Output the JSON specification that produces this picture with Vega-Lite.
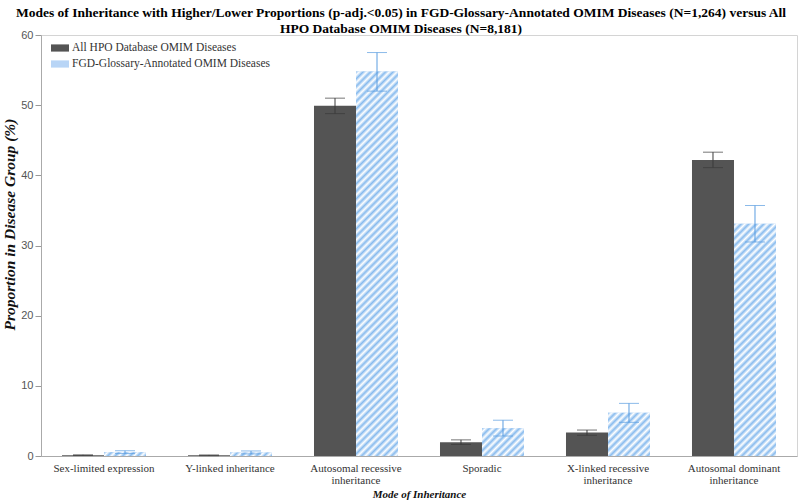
{
  "$schema": "https://vega.github.io/schema/vega-lite/v6.json",
  "width": 756,
  "height": 421,
  "autosize": "none",
  "padding": {"left": 41, "top": 35, "right": 3, "bottom": 45},
  "background": "white",
  "title": {
    "text": [
      "Modes of Inheritance with Higher/Lower Proportions (p-adj.<0.05) in FGD-Glossary-Annotated OMIM Diseases (N=1,264) versus All",
      "HPO Database OMIM Diseases (N=8,181)"
    ],
    "anchor": "middle",
    "frame": "group",
    "dx": -18,
    "offset": -6,
    "font": "Liberation Serif",
    "fontSize": 13.5,
    "fontWeight": "bold",
    "color": "#000",
    "lineHeight": 16,
    "limit": 0
  },
  "data": {
    "values": [
      {"mode": "Sex-limited expression", "series": "All HPO Database OMIM Diseases", "value": 0.12, "lo": 0.07, "hi": 0.17},
      {"mode": "Sex-limited expression", "series": "FGD-Glossary-Annotated OMIM Diseases", "value": 0.55, "lo": 0.35, "hi": 0.75},
      {"mode": "Y-linked inheritance", "series": "All HPO Database OMIM Diseases", "value": 0.1, "lo": 0.05, "hi": 0.15},
      {"mode": "Y-linked inheritance", "series": "FGD-Glossary-Annotated OMIM Diseases", "value": 0.5, "lo": 0.3, "hi": 0.72},
      {"mode": "Autosomal recessive inheritance", "series": "All HPO Database OMIM Diseases", "value": 49.9, "lo": 48.8, "hi": 51.0},
      {"mode": "Autosomal recessive inheritance", "series": "FGD-Glossary-Annotated OMIM Diseases", "value": 54.8, "lo": 52.0, "hi": 57.5},
      {"mode": "Sporadic", "series": "All HPO Database OMIM Diseases", "value": 1.95, "lo": 1.65, "hi": 2.3},
      {"mode": "Sporadic", "series": "FGD-Glossary-Annotated OMIM Diseases", "value": 3.95, "lo": 2.85, "hi": 5.1},
      {"mode": "X-linked recessive inheritance", "series": "All HPO Database OMIM Diseases", "value": 3.35, "lo": 2.95, "hi": 3.7},
      {"mode": "X-linked recessive inheritance", "series": "FGD-Glossary-Annotated OMIM Diseases", "value": 6.15, "lo": 4.8, "hi": 7.5},
      {"mode": "Autosomal dominant inheritance", "series": "All HPO Database OMIM Diseases", "value": 42.2, "lo": 41.1, "hi": 43.3},
      {"mode": "Autosomal dominant inheritance", "series": "FGD-Glossary-Annotated OMIM Diseases", "value": 33.1, "lo": 30.5, "hi": 35.7}
    ]
  },
  "encoding": {
    "x": {
      "field": "mode",
      "type": "nominal",
      "sort": null,
      "title": "Mode of Inheritance",
      "scale": {"paddingInner": 0.3333, "paddingOuter": 0.1667},
      "axis": {
        "labelAngle": 0,
        "ticks": false,
        "labelFont": "Liberation Serif",
        "labelFontSize": 11,
        "labelColor": "#333",
        "labelLineHeight": 12,
        "labelPadding": 6,
        "labelLimit": 0,
        "titlePadding": 3,
        "labelExpr": "indexof(datum.label, 'recessive inheritance') >= 0 || indexof(datum.label, 'dominant inheritance') >= 0 ? [replace(datum.label, ' inheritance', ''), 'inheritance'] : datum.label"
      }
    },
    "xOffset": {
      "field": "series",
      "type": "nominal",
      "sort": null,
      "scale": {"domain": ["All HPO Database OMIM Diseases", "FGD-Glossary-Annotated OMIM Diseases"]}
    }
  },
  "layer": [
    {
      "mark": {"type": "bar"},
      "encoding": {
        "y": {
          "field": "value",
          "type": "quantitative",
          "title": "Proportion in Disease Group (%)",
          "scale": {"domain": [0, 60], "nice": false},
          "axis": {
            "values": [0, 10, 20, 30, 40, 50, 60],
            "grid": false,
            "labelFont": "Liberation Sans",
            "labelFontSize": 11,
            "labelColor": "#555",
            "labelPadding": 2,
            "tickSize": 6,
            "tickColor": "#999",
            "titleFontSize": 15.5,
            "titleX": -32,
            "titleY": 189,
            "titleBaseline": "middle"
          }
        },
        "fill": {
          "field": "series",
          "type": "nominal",
          "scale": {
            "domain": ["All HPO Database OMIM Diseases", "FGD-Glossary-Annotated OMIM Diseases"],
            "range": ["#545454", "#b8d5f6"]
          },
          "legend": {
            "orient": "none",
            "legendX": 10,
            "legendY": 4,
            "title": null,
            "padding": 0,
            "symbolType": "M-1,-0.4H1V0.4H-1Z",
            "symbolSize": 324,
            "symbolStrokeWidth": 0,
            "labelFont": "Liberation Serif",
            "labelFontSize": 11.5,
            "labelColor": "#333",
            "labelOffset": 3,
            "labelLimit": 0,
            "rowPadding": 1,
            "encode": {
              "symbols": {
                "update": {
                  "fill": {"signal": "datum.value == 'FGD-Glossary-Annotated OMIM Diseases' ? {gradient:'linear',x1:0,y1:0,x2:1.207,y2:0.483,stops:[{offset:0,color:'#8be'},{offset:0.149,color:'#fff'},{offset:0.298,color:'#8be'},{offset:0.447,color:'#fff'},{offset:0.596,color:'#8be'},{offset:0.745,color:'#fff'},{offset:0.894,color:'#8be'},{offset:1,color:'#fff'}]} : '#545454'"}
                }
              }
            }
          }
        }
      }
    },
    {
      "transform": [{"filter": "datum.series == 'FGD-Glossary-Annotated OMIM Diseases'"}],
      "mark": {
        "type": "bar",
        "fill": {"expr": "{gradient:'linear',x1:0,y1:0,x2:42*750/(1764+pow(datum.value*7.01667,2)),y2:datum.value*7.01667*750/(1764+pow(datum.value*7.01667,2)),stops:[{offset:0,color:'#8be'},{offset:0.005,color:'#fff'},{offset:0.01,color:'#8be'},{offset:0.015,color:'#fff'},{offset:0.02,color:'#8be'},{offset:0.025,color:'#fff'},{offset:0.03,color:'#8be'},{offset:0.035,color:'#fff'},{offset:0.04,color:'#8be'},{offset:0.045,color:'#fff'},{offset:0.05,color:'#8be'},{offset:0.055,color:'#fff'},{offset:0.06,color:'#8be'},{offset:0.065,color:'#fff'},{offset:0.07,color:'#8be'},{offset:0.075,color:'#fff'},{offset:0.08,color:'#8be'},{offset:0.085,color:'#fff'},{offset:0.09,color:'#8be'},{offset:0.095,color:'#fff'},{offset:0.1,color:'#8be'},{offset:0.105,color:'#fff'},{offset:0.11,color:'#8be'},{offset:0.115,color:'#fff'},{offset:0.12,color:'#8be'},{offset:0.125,color:'#fff'},{offset:0.13,color:'#8be'},{offset:0.135,color:'#fff'},{offset:0.14,color:'#8be'},{offset:0.145,color:'#fff'},{offset:0.15,color:'#8be'},{offset:0.155,color:'#fff'},{offset:0.16,color:'#8be'},{offset:0.165,color:'#fff'},{offset:0.17,color:'#8be'},{offset:0.175,color:'#fff'},{offset:0.18,color:'#8be'},{offset:0.185,color:'#fff'},{offset:0.19,color:'#8be'},{offset:0.195,color:'#fff'},{offset:0.2,color:'#8be'},{offset:0.205,color:'#fff'},{offset:0.21,color:'#8be'},{offset:0.215,color:'#fff'},{offset:0.22,color:'#8be'},{offset:0.225,color:'#fff'},{offset:0.23,color:'#8be'},{offset:0.235,color:'#fff'},{offset:0.24,color:'#8be'},{offset:0.245,color:'#fff'},{offset:0.25,color:'#8be'},{offset:0.255,color:'#fff'},{offset:0.26,color:'#8be'},{offset:0.265,color:'#fff'},{offset:0.27,color:'#8be'},{offset:0.275,color:'#fff'},{offset:0.28,color:'#8be'},{offset:0.285,color:'#fff'},{offset:0.29,color:'#8be'},{offset:0.295,color:'#fff'},{offset:0.3,color:'#8be'},{offset:0.305,color:'#fff'},{offset:0.31,color:'#8be'},{offset:0.315,color:'#fff'},{offset:0.32,color:'#8be'},{offset:0.325,color:'#fff'},{offset:0.33,color:'#8be'},{offset:0.335,color:'#fff'},{offset:0.34,color:'#8be'},{offset:0.345,color:'#fff'},{offset:0.35,color:'#8be'},{offset:0.355,color:'#fff'},{offset:0.36,color:'#8be'},{offset:0.365,color:'#fff'},{offset:0.37,color:'#8be'},{offset:0.375,color:'#fff'},{offset:0.38,color:'#8be'},{offset:0.385,color:'#fff'},{offset:0.39,color:'#8be'},{offset:0.395,color:'#fff'},{offset:0.4,color:'#8be'},{offset:0.405,color:'#fff'},{offset:0.41,color:'#8be'},{offset:0.415,color:'#fff'},{offset:0.42,color:'#8be'},{offset:0.425,color:'#fff'},{offset:0.43,color:'#8be'},{offset:0.435,color:'#fff'},{offset:0.44,color:'#8be'},{offset:0.445,color:'#fff'},{offset:0.45,color:'#8be'},{offset:0.455,color:'#fff'},{offset:0.46,color:'#8be'},{offset:0.465,color:'#fff'},{offset:0.47,color:'#8be'},{offset:0.475,color:'#fff'},{offset:0.48,color:'#8be'},{offset:0.485,color:'#fff'},{offset:0.49,color:'#8be'},{offset:0.495,color:'#fff'},{offset:0.5,color:'#8be'},{offset:0.505,color:'#fff'},{offset:0.51,color:'#8be'},{offset:0.515,color:'#fff'},{offset:0.52,color:'#8be'},{offset:0.525,color:'#fff'},{offset:0.53,color:'#8be'},{offset:0.535,color:'#fff'},{offset:0.54,color:'#8be'},{offset:0.545,color:'#fff'},{offset:0.55,color:'#8be'},{offset:0.555,color:'#fff'},{offset:0.56,color:'#8be'},{offset:0.565,color:'#fff'},{offset:0.57,color:'#8be'},{offset:0.575,color:'#fff'}]}"}
      },
      "encoding": {
        "y": {"field": "value", "type": "quantitative", "title": "Proportion in Disease Group (%)"}
      }
    },
    {
      "mark": {"type": "rule", "strokeWidth": 1},
      "encoding": {
        "y": {"field": "lo", "type": "quantitative", "title": "Proportion in Disease Group (%)"},
        "y2": {"field": "hi"},
        "color": {
          "field": "series",
          "type": "nominal",
          "scale": {
            "domain": ["All HPO Database OMIM Diseases", "FGD-Glossary-Annotated OMIM Diseases"],
            "range": ["#3a3a3a", "#5a9de0"]
          },
          "legend": null
        }
      }
    },
    {
      "mark": {"type": "tick", "size": 20, "thickness": 1},
      "encoding": {
        "y": {"field": "hi", "type": "quantitative", "title": "Proportion in Disease Group (%)"},
        "color": {"field": "series", "type": "nominal", "legend": null}
      }
    },
    {
      "mark": {"type": "tick", "size": 20, "thickness": 1},
      "encoding": {
        "y": {"field": "lo", "type": "quantitative", "title": "Proportion in Disease Group (%)"},
        "color": {"field": "series", "type": "nominal", "legend": null}
      }
    }
  ],
  "config": {
    "view": {"stroke": "#d4d4d4"},
    "axis": {
      "domainColor": "#aaa",
      "titleFont": "Liberation Serif",
      "titleFontSize": 11,
      "titleFontStyle": "italic",
      "titleFontWeight": "bold",
      "titleColor": "#111"
    }
  }
}
